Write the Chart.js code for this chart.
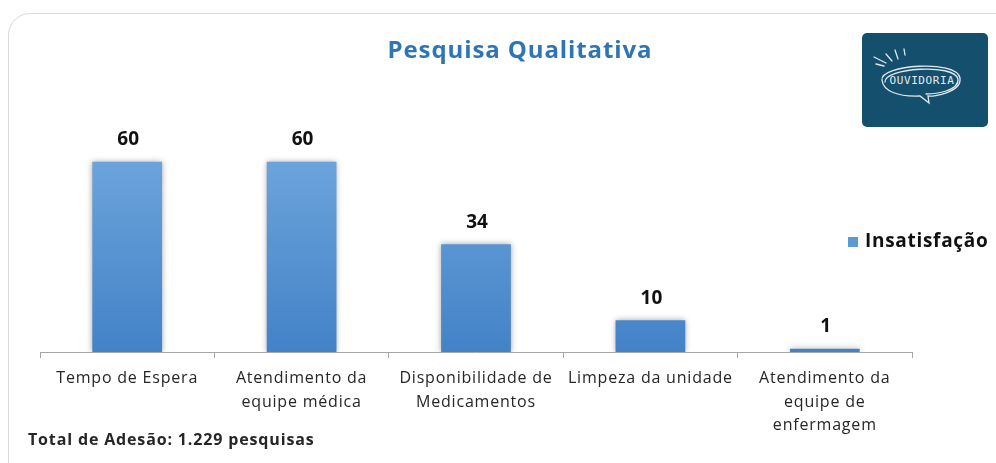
<!DOCTYPE html>
<html>
<head>
<meta charset="utf-8">
<script src="https://cdn.jsdelivr.net/npm/chart.js@4"></script>
<style>
  html, body { margin: 0; padding: 0; background: #fff; overflow: hidden; }
  #wrap { position: relative; width: 996px; height: 463px; }
  #card {
    position: absolute; left: 8px; top: 13px; width: 1040px; height: 520px;
    border: 1px solid #d9d9d9; border-radius: 22px; box-sizing: border-box;
  }
  #chart { position: absolute; left: 0; top: 0; }
  #title {
    position: absolute; left: 0; width: 1040px; top: 32px; text-align: center;
    font: bold 24px "Open Sans", sans-serif; color: #2e75b6; letter-spacing: 0.9px;
  }
  #total {
    position: absolute; left: 28px; top: 428px;
    font: bold 16px "Open Sans", sans-serif; color: #262626; letter-spacing: 0.85px;
  }
  #logo {
    position: absolute; left: 862px; top: 33px; width: 126px; height: 94px;
    background: #154f6e; border-radius: 5px;
  }
  #logo svg { position: absolute; left: 0; top: 0; }
</style>
</head>
<body>
<div id="wrap">
  <div id="card"></div>
  <canvas id="chart" width="996" height="463"></canvas>
  <div id="title">Pesquisa Qualitativa</div>
  <div id="total">Total de Adesão: 1.229 pesquisas</div>
  <div id="logo">
    <svg width="126" height="94" viewBox="0 0 126 94">
      <g stroke="#dfe8ee" stroke-width="1.3" fill="none" stroke-linecap="round">
        <path d="M20 47 C 18 32, 94 26, 98 45 C 100 59, 72 64, 66 63 L 67 70 L 58 63 C 36 64, 21 58, 20 47 Z"/>
        <path d="M23 49 C 22 35, 92 30, 96 46 C 97 58, 74 61, 64 61"/>
        <path d="M12 24 L 24 30"/>
        <path d="M14 31 L 22 33"/>
        <path d="M24 21 L 30 28"/>
        <path d="M33 17 L 36 26"/>
        <path d="M42 16 L 43 22"/>
      </g>
      <text x="60" y="51" text-anchor="middle" fill="#e3ebf0"
            font-family="DejaVu Sans Mono, monospace" font-size="11" letter-spacing="0.6">OUVIDORIA</text>
    </svg>
  </div>
</div>
<script>
const categories = [
  ['Tempo de Espera'],
  ['Atendimento da', 'equipe médica'],
  ['Disponibilidade de', 'Medicamentos'],
  ['Limpeza da unidade'],
  ['Atendimento da', 'equipe de', 'enfermagem']
];
const seriesName = 'Insatisfação';
const insatisfacao = [60, 60, 34, 10, 1];

function barGradient(context) {
  const chart = context.chart;
  const area = chart.chartArea;
  if (!area) return '#5b9bd5';
  const g = chart.ctx.createLinearGradient(0, area.top, 0, area.bottom);
  g.addColorStop(0, '#72a9df');
  g.addColorStop(1, '#4382c7');
  return g;
}

// wider letter spacing for the axis labels
const tickSpacing = {
  id: 'tickSpacing',
  beforeDraw(chart) { chart.ctx.letterSpacing = '0.8px'; },
  beforeDatasetsDraw(chart) { chart.ctx.letterSpacing = '0px'; }
};

// soft shadow around the bars
const barShadow = {
  id: 'barShadow',
  beforeDatasetsDraw(chart) {
    const ctx = chart.ctx;
    ctx.save();
    ctx.shadowColor = 'rgba(0,0,0,0.35)';
    ctx.shadowBlur = 6;
    ctx.shadowOffsetX = 0;
    ctx.shadowOffsetY = 0;
  },
  afterDatasetsDraw(chart) {
    chart.ctx.restore();
  }
};

// value labels above each bar
const valueLabels = {
  id: 'valueLabels',
  afterDatasetsDraw(chart) {
    const ctx = chart.ctx;
    const meta = chart.getDatasetMeta(0);
    ctx.save();
    ctx.font = 'bold 19px "Open Sans", sans-serif';
    ctx.fillStyle = '#111';
    ctx.textAlign = 'center';
    ctx.textBaseline = 'middle';
    meta.data.forEach((bar, i) => {
      ctx.fillText(String(chart.data.datasets[0].data[i]), bar.x + 1, bar.y - 22);
    });
    ctx.restore();
  }
};

// legend placed to the right, overlapping the plot edge like the original
const sideLegend = {
  id: 'sideLegend',
  afterDraw(chart) {
    const ctx = chart.ctx;
    const ds = chart.data.datasets[0];
    const y = 242;
    ctx.save();
    ctx.fillStyle = '#5b9bd5';
    ctx.fillRect(848, y - 5, 10, 10);
    ctx.font = 'bold 19px "Open Sans", sans-serif';
    ctx.letterSpacing = '0.7px';
    ctx.fillStyle = '#111';
    ctx.textAlign = 'left';
    ctx.textBaseline = 'middle';
    ctx.fillText(ds.label, 865, y);
    ctx.restore();
  }
};

new Chart(document.getElementById('chart'), {
  type: 'bar',
  data: {
    labels: categories,
    datasets: [{
      label: seriesName,
      data: insatisfacao,
      backgroundColor: barGradient,
      borderWidth: 0,
      categoryPercentage: 0.4,
      barPercentage: 1.0
    }]
  },
  options: {
    responsive: false,
    animation: false,
    layout: { padding: { left: 40, right: 84, top: 130, bottom: 0 } },
    plugins: { legend: { display: false }, title: { display: false }, tooltip: { enabled: false } },
    scales: {
      y: { display: false, min: 0, max: 70 },
      x: {
        afterFit(scale) { scale.height = 111; },
        border: { display: true, color: '#a6a6a6', width: 1 },
        grid: { offset: true, drawOnChartArea: false, drawTicks: true, tickLength: 6, color: '#a6a6a6' },
        ticks: {
          color: '#262626',
          font: { family: '"Open Sans", sans-serif', size: 16, lineHeight: 1.47 },
          padding: 9,
          maxRotation: 0,
          autoSkip: false
        }
      }
    }
  },
  plugins: [tickSpacing, barShadow, valueLabels, sideLegend]
});
</script>
</body>
</html>
